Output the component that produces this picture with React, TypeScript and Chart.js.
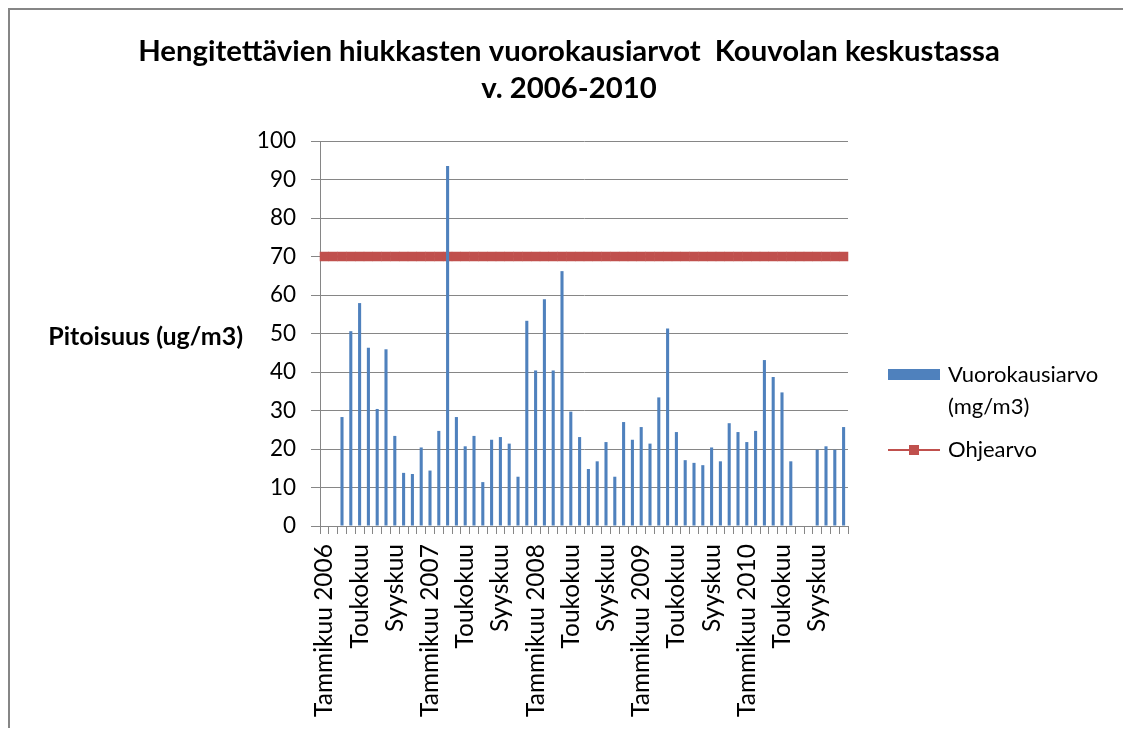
import React, { useEffect, useRef } from "react";
import { Chart, registerables } from "chart.js";

Chart.register(...registerables);

const monthNames = [
  "Tammikuu", "Helmikuu", "Maaliskuu", "Huhtikuu", "Toukokuu", "Kesäkuu",
  "Heinäkuu", "Elokuu", "Syyskuu", "Lokakuu", "Marraskuu", "Joulukuu",
];
const years = [2006, 2007, 2008, 2009, 2010];
const categories: string[] = years.flatMap((y) =>
  monthNames.map((m, i) => (i === 0 ? `${m} ${y}` : m))
);

const dailyValues: (number | null)[] = [
  null, null, 28.3, 50.6, 57.9, 46.3, 30.4, 45.9, 23.4, 13.8, 13.5, 20.4,
  14.4, 24.7, 93.5, 28.3, 20.7, 23.4, 11.4, 22.4, 23.1, 21.4, 12.8, 53.3,
  40.4, 58.9, 40.4, 66.2, 29.7, 23.1, 14.8, 16.8, 21.8, 12.8, 27.0, 22.4,
  25.7, 21.4, 33.4, 51.3, 24.4, 17.1, 16.4, 15.8, 20.4, 16.8, 26.7, 24.4,
  21.8, 24.7, 43.1, 38.7, 34.7, 16.8, null, null, 19.8, 20.7, 19.8, 25.7,
];
const guideValue = 70;
const guideValues: number[] = categories.map(() => guideValue);

const titleLines = [
  "Hengitettävien hiukkasten vuorokausiarvot  Kouvolan keskustassa",
  "v. 2006-2010",
];
const yAxisTitle = "Pitoisuus (ug/m3)";
const barLegend = ["Vuorokausiarvo", "(mg/m3)"];
const lineLegend = "Ohjearvo";

const BLUE = "#4F81BD";
const RED = "#C0504D";
const GRID = "#868686";
const FONT = "Lato";

const extrasPlugin = {
  id: "extras",
  afterDraw(chart: any) {
    const ctx = chart.ctx as CanvasRenderingContext2D;
    const area = chart.chartArea;
    ctx.save();
    ctx.fillStyle = "#000";

    // title (fit first line to ~862px)
    ctx.font = `bold 25px ${FONT}`;
    const w = ctx.measureText(titleLines[0]).width;
    const size = Math.min(30, (25 * 862) / w);
    ctx.font = `bold ${size}px ${FONT}`;
    ctx.textAlign = "center";
    ctx.textBaseline = "middle";
    ctx.fillText(titleLines[0], 559, 42);
    ctx.fillText(titleLines[1], 559, 79);

    // y-axis title (horizontal)
    ctx.font = `bold 25px ${FONT}`;
    ctx.textAlign = "right";
    ctx.textBaseline = "middle";
    ctx.fillText(yAxisTitle, 233, (area.top + area.bottom) / 2 + 3);

    // legend
    const lx = 878;
    const tx = 938;
    ctx.fillStyle = BLUE;
    ctx.fillRect(lx, 359, 52, 11);
    ctx.fillStyle = "#000";
    ctx.font = `22px ${FONT}`;
    ctx.textAlign = "left";
    ctx.fillText(barLegend[0], tx, 365);
    ctx.fillText(barLegend[1], tx, 397);

    ctx.strokeStyle = RED;
    ctx.lineWidth = 2;
    ctx.beginPath();
    ctx.moveTo(lx, 440);
    ctx.lineTo(lx + 52, 440);
    ctx.stroke();
    ctx.fillStyle = RED;
    ctx.fillRect(lx + 26 - 5, 435, 10, 10);
    ctx.fillStyle = "#000";
    ctx.fillText(lineLegend, tx, 440);
    ctx.restore();
  },
};

export default function App() {
  const ref = useRef<HTMLCanvasElement | null>(null);

  useEffect(() => {
    if (!ref.current) return;
    const chart = new Chart(ref.current, {
      type: "bar",
      data: {
        labels: categories,
        datasets: [
          {
            type: "bar",
            label: barLegend.join(" "),
            data: dailyValues,
            backgroundColor: BLUE,
            barPercentage: 0.35,
            categoryPercentage: 1,
            order: 0,
          },
          {
            type: "line",
            label: lineLegend,
            data: guideValues,
            borderColor: RED,
            backgroundColor: RED,
            borderWidth: 2,
            pointStyle: "rect",
            pointRadius: 6.6,
            pointBorderWidth: 0,
            pointBackgroundColor: RED,
            order: 1,
          } as any,
        ],
      },
      options: {
        responsive: false,
        animation: false,
        layout: { padding: { left: 210, right: 280, top: 131, bottom: 0 } },
        plugins: {
          legend: { display: false },
          tooltip: { enabled: false },
          title: { display: false },
        },
        scales: {
          x: {
            offset: true,
            grid: {
              offset: true,
              drawOnChartArea: false,
              drawTicks: true,
              tickLength: 8,
              color: GRID,
            },
            border: { display: true, color: GRID },
            ticks: {
              autoSkip: false,
              maxRotation: 90,
              minRotation: 90,
              padding: 10,
              color: "#000",
              font: { family: FONT, size: 24.5 },
              callback: (_v: any, i: number) => (i % 4 === 0 ? categories[i] : ""),
            },
            afterFit: (s: any) => {
              s.height = 202;
            },
          },
          y: {
            min: 0,
            max: 100,
            ticks: {
              stepSize: 10,
              padding: 15,
              color: "#000",
              font: { family: FONT, size: 22.5 },
            },
            grid: { color: GRID, tickLength: 9 },
            border: { display: true, color: GRID },
            afterFit: (s: any) => {
              s.width = 100;
            },
          },
        },
      },
      plugins: [extrasPlugin],
    });
    return () => chart.destroy();
  }, []);

  return (
    <div
      style={{
        position: "relative",
        width: 1122,
        height: 720,
        boxSizing: "border-box",
        borderTop: `2px solid ${GRID}`,
        borderLeft: `2px solid ${GRID}`,
        borderRight: `2px solid ${GRID}`,
        background: "#fff",
      }}
    >
      <canvas ref={ref} width={1118} height={718} style={{ display: "block" }} />
    </div>
  );
}
